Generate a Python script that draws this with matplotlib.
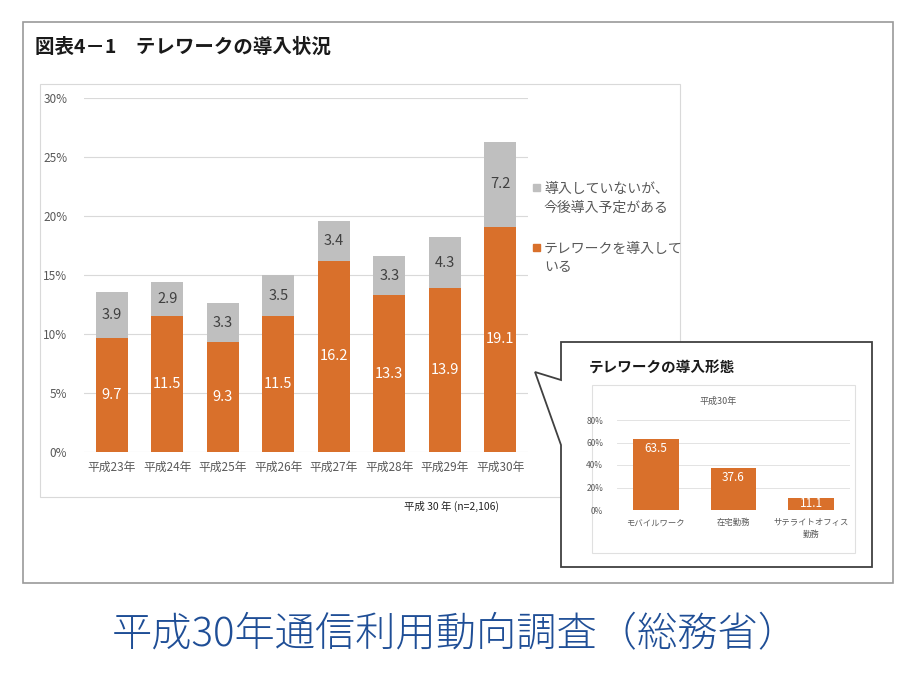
import matplotlib
matplotlib.use("Agg")
import matplotlib.pyplot as plt
from matplotlib.patches import Rectangle, Polygon

plt.rcParams['font.family'] = ['Noto Sans CJK JP', 'DejaVu Sans']

# ---- data ----
years = ["平成23年", "平成24年", "平成25年", "平成26年", "平成27年", "平成28年", "平成29年", "平成30年"]
introduced = [9.7, 11.5, 9.3, 11.5, 16.2, 13.3, 13.9, 19.1]
planned = [3.9, 2.9, 3.3, 3.5, 3.4, 3.3, 4.3, 7.2]
main_yticks = [0, 5, 10, 15, 20, 25, 30]
legend_labels = ["導入していないが、\n今後導入予定がある", "テレワークを導入して\nいる"]

forms = ["モバイルワーク", "在宅勤務", "サテライトオフィス\n勤務"]
form_values = [63.5, 37.6, 11.1]
small_yticks = [0, 20, 40, 60, 80]

ORANGE = "#D9702B"
GRAY = "#BFBFBF"
TXT = "#595959"

W, H = 900, 675
fig = plt.figure(figsize=(9, 6.75), dpi=100)
fig.patch.set_facecolor("white")


def fx(x):
    return x / W


def fy(y):
    return 1 - y / H


def add_ax(x0, y0, x1, y1):
    return fig.add_axes([fx(x0), fy(y1), (x1 - x0) / W, (y1 - y0) / H])


# background overlay axis for shapes
bg = fig.add_axes([0, 0, 1, 1])
bg.set_xlim(0, W)
bg.set_ylim(H, 0)
bg.axis("off")
bg.add_patch(Rectangle((23, 22), 870, 561, fill=False, ec="#9a9a9a", lw=1.2))
bg.add_patch(Rectangle((40, 84), 640, 413, fill=False, ec="#d9d9d9", lw=0.8))

# title
fig.text(fx(35), fy(47), "図表4－1　テレワークの導入状況", fontsize=14, fontweight="bold",
         color="#1a1a1a", va="center", ha="left")

# ---- main chart ----
ax = add_ax(84, 98, 528, 452)
x = list(range(len(years)))
ax.bar(x, introduced, width=0.58, color=ORANGE, zorder=3)
ax.bar(x, planned, width=0.58, bottom=introduced, color=GRAY, zorder=3)
for i in x:
    ax.text(i, introduced[i] / 2, f"{introduced[i]:.1f}", ha="center", va="center",
            color="white", fontsize=10.5, zorder=4)
    ax.text(i, introduced[i] + planned[i] / 2, f"{planned[i]:.1f}", ha="center", va="center",
            color="#404040", fontsize=10.5, zorder=4)
ax.set_xlim(-0.5, len(years) - 0.5)
ax.set_ylim(0, 30)
ax.set_yticks(main_yticks)
ax.set_yticklabels([f"{t}%" for t in main_yticks])
ax.set_xticks(x)
ax.set_xticklabels(years)
ax.tick_params(axis="both", length=0, labelsize=8.5, colors=TXT)
ax.tick_params(axis="y", pad=12)
ax.tick_params(axis="x", pad=6)
ax.grid(axis="y", color="#d9d9d9", lw=0.8, zorder=0)
for s in ax.spines.values():
    s.set_visible(False)
ax.set_facecolor("none")

# legend
bg.add_patch(Rectangle((533, 184), 7, 7, color=GRAY))
fig.text(fx(544), fy(198), legend_labels[0], fontsize=10, color=TXT, va="center",
         ha="left", linespacing=1.45)
bg.add_patch(Rectangle((533, 244), 7, 7, color=ORANGE))
fig.text(fx(544), fy(258), legend_labels[1], fontsize=10, color=TXT, va="center",
         ha="left", linespacing=1.45)

# note
fig.text(fx(404), fy(506), "平成 30 年 (n=2,106)", fontsize=7.5, color="#222222",
         va="center", ha="left")

# ---- callout ----
callout = Polygon([(561, 342), (872, 342), (872, 567), (561, 567), (561, 445),
                   (535, 372), (561, 380)], closed=True, fill=True, fc="white",
                  ec="#404040", lw=1.3, zorder=5)
bg.add_patch(callout)
bg.add_patch(Rectangle((592, 385), 263, 168, fill=False, ec="#e0e0e0", lw=0.8, zorder=6))
fig.text(fx(589), fy(368), "テレワークの導入形態", fontsize=10.5, fontweight="bold",
         color="#1a1a1a", va="center", ha="left", zorder=7)
fig.text(fx(718), fy(401), "平成30年", fontsize=6.5, color=TXT, va="center", ha="center")

ax2 = add_ax(617, 420, 850, 510)
x2 = list(range(len(forms)))
ax2.bar(x2, form_values, width=0.59, color=ORANGE, zorder=3)
for i in x2:
    ax2.text(i, form_values[i] - 9 if form_values[i] > 20 else form_values[i] / 2,
             f"{form_values[i]:.1f}", ha="center", va="center", color="white",
             fontsize=8.5, zorder=4)
ax2.set_xlim(-0.5, len(forms) - 0.5)
ax2.set_ylim(0, 80)
ax2.set_yticks(small_yticks)
ax2.set_yticklabels([f"{t}%" for t in small_yticks])
ax2.set_xticks(x2)
ax2.set_xticklabels(forms, linespacing=1.3)
ax2.tick_params(axis="both", length=0, labelsize=6, colors=TXT)
ax2.tick_params(axis="y", pad=10)
ax2.tick_params(axis="x", pad=6)
ax2.grid(axis="y", color="#e3e3e3", lw=0.7, zorder=0)
for s in ax2.spines.values():
    s.set_visible(False)
ax2.set_facecolor("none")
ax2.set_zorder(8)

# bottom caption
fig.text(fx(455), fy(635), "平成30年通信利用動向調査（総務省）", fontsize=29,
         color="#1F4E96", va="center", ha="center", fontweight="light")

fig.savefig("out.png", dpi=100, facecolor="white")
